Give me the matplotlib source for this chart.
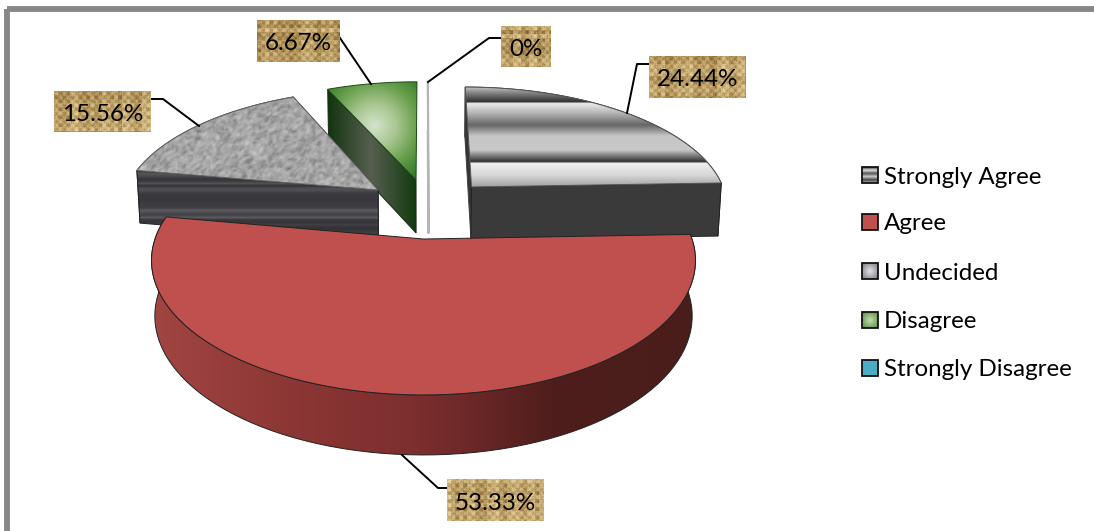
import numpy as np
import matplotlib
matplotlib.use('Agg')
import matplotlib.pyplot as plt
from matplotlib.patches import Polygon, Rectangle

categories = ['Strongly Agree', 'Agree', 'Undecided', 'Disagree', 'Strongly Disagree']
values = [24.44, 53.33, 15.56, 6.67, 0]
label_text = ['24.44%', '53.33%', '15.56%', '6.67%', '0%']

# slice explosion in disc units
offset_u = [0.191, 0.0, -0.18, -0.03, 0.02]
offset_v = [0.424, 0.0, 0.398, 0.485, 0.485]

# label boxes (x0,y0,x1,y1) and leader lines
label_box = [(649, 56, 746, 98), (447, 479, 544, 521), (54, 91, 151, 132),
             (257, 20, 340, 62), (501, 26, 551, 67)]
leaders = [[(649, 64), (637, 64), (627, 113)],
           [(447, 488), (438, 488), (402, 455)],
           [(151, 99), (163, 99), (199, 126)],
           [(340, 38), (371, 84)],
           [(501, 38), (489, 38), (428, 82)]]
legend_y = [175, 222, 271, 320, 368]

# pie projection
cx, cy = 423.5, 239.0
R, Ry = 268.5, 131.0
k, m = 0.16, 0.012
D = 55.0

rng = np.random.default_rng(7)
plt.rcParams['font.family'] = ['Lato', 'DejaVu Sans']

fig = plt.figure(figsize=(10.94, 5.31), dpi=100)
ax = fig.add_axes([0, 0, 1, 1])
ax.axis('off')
zo = [2]


def nz():
    zo[0] += 1
    return zo[0]


def proj(u, v, z=0.0):
    w0 = 1 + k * v
    w = w0 + m * z
    y = cy - Ry * v / w0 + D * z / np.sqrt(w0)
    return cx + R * u / w, y


def hexrgb(c):
    return np.array(matplotlib.colors.to_rgb(c))


def ramp(t, stops):
    pos = [s[0] for s in stops]
    cols = np.array([hexrgb(s[1]) for s in stops])
    return np.stack([np.interp(t, pos, cols[:, i]) for i in range(3)], axis=-1)


def fill_img(xy, img, box, interp='bilinear', edge='#222222', lw=0.7):
    x0, y0, x1, y1 = box
    z = nz()
    im = ax.imshow(img, extent=(x0, x1, y1, y0), aspect='auto', zorder=z, interpolation=interp)
    im.set_clip_path(Polygon(xy, closed=True, transform=ax.transData))
    if edge:
        ax.add_patch(Polygon(xy, closed=True, fill=False, ec=edge, lw=lw, zorder=z))


def flat(xy, col, edge='#222222', lw=0.7):
    ax.add_patch(Polygon(xy, closed=True, fc=col, ec=edge, lw=lw, zorder=nz()))


def bbox(xy):
    xy = np.asarray(xy)
    return xy[:, 0].min(), xy[:, 1].min(), xy[:, 0].max(), xy[:, 1].max()


def wedge_pts(a0, a1, du, dv, z=0.0, n=80):
    th = np.radians(np.linspace(a0, a1, n))
    x, y = proj(du + np.sin(th), dv + np.cos(th), z)
    return np.column_stack([x, y])


def rim(a0, a1, du, dv):
    return np.vstack([wedge_pts(a0, a1, du, dv), wedge_pts(a0, a1, du, dv, 1.0)[::-1]])


def cut(a, du, dv):
    tip = wedge_pts(a, a, du, dv, n=1)[0]
    tip2 = wedge_pts(a, a, du, dv, 1.0, n=1)[0]
    return np.array([tip, proj(du, dv), proj(du, dv, 1.0), tip2])


def top(a0, a1, du, dv):
    return np.vstack([[proj(du, dv)], wedge_pts(a0, a1, du, dv)])


def h_img(stops, x0, x1):
    t = np.linspace(x0, x1, 300)
    return ramp(t, stops)[None, :, :]


def v_img(stops, y0, y1):
    t = np.linspace(y0, y1, 400)
    return ramp(t, stops)[:, None, :]


def radial_img(box, c, stops):
    x0, y0, x1, y1 = box
    xx, yy = np.meshgrid(np.linspace(x0, x1, 160), np.linspace(y0, y1, 160))
    d = np.hypot(xx - c[0], yy - c[1])
    return ramp(d, stops)


def burlap(w, h):
    rows = rng.uniform(-0.5, 0.5, h // 4 + 2)
    cols = rng.uniform(-0.5, 0.5, w // 4 + 2)
    yy, xx = np.mgrid[0:h, 0:w]
    weave = np.sin(2 * np.pi * xx / 8.0) * np.sin(2 * np.pi * yy / 8.0)
    v = 0.52 + 0.16 * weave + 0.25 * rows[yy // 4] + 0.25 * cols[xx // 4] + rng.normal(0, 0.05, (h, w))
    return ramp(np.clip(v, 0, 1), [(0, '#6a4f26'), (0.35, '#a5854c'), (0.6, '#c8ad74'), (1, '#f2e3b4')])


angles = np.cumsum([0] + values) / sum(values) * 360.0
a0s, a1s = angles[:-1], angles[1:]

# blue slice has no width, only a thin line is left
line = cut(a0s[4], offset_u[4], offset_v[4])
ax.plot(line[:, 0], line[:, 1], color='#b4b4b4', lw=1.6, zorder=nz())

# green slice
du, dv = offset_u[3], offset_v[3]
side = cut(a0s[3], du, dv)
bx = bbox(side)
fill_img(side, h_img([(327, '#12330f'), (370, '#565f50'), (416, '#123a0e')], bx[0], bx[2]), bx, edge='#1a2a16')
pts = top(a0s[3], a1s[3], du, dv)
bx = bbox(pts)
fill_img(pts, radial_img(bx, (374, 126), [(0, '#d4e4cc'), (22, '#a8c690'), (42, '#6aa04e'), (72, '#1f6c1a')]), bx,
         edge='#1a4a14')

# gray slice
du, dv = offset_u[2], offset_v[2]
stripe = ramp(rng.uniform(0, 1, 30), [(0, '#343438'), (0.6, '#3f3f43'), (1, '#5c5c60')])[:, None, :]
pts = cut(a1s[2], du, dv)
flat(pts, '#3c3c40')
pts = rim(a0s[2], a1s[2], du, dv)
flat(pts, '#3c3c40')
pts = cut(a0s[2], du, dv)
fill_img(pts, stripe, bbox(pts))
pts = top(a0s[2], a1s[2], du, dv)
bx = bbox(pts)
noise = rng.normal(0, 1, (50, 125))
noise = (noise + np.roll(noise, 1, 1) + np.roll(noise, 1, 0)) / 1.7
fill_img(pts, ramp(0.5 + 0.13 * noise, [(0, '#6e6e6e'), (0.5, '#a6a6a6'), (1, '#d0d0d0')]), bx, edge='#666666')

# dark striped slice
du, dv = offset_u[0], offset_v[0]
flat(rim(a0s[0], a1s[0], du, dv), '#383838')
flat(cut(a0s[0], du, dv), '#333333', edge='#444444')
flat(cut(a1s[0], du, dv), '#3a3a3a')
pts = top(a0s[0], a1s[0], du, dv)
bx = bbox(pts)
fill_img(pts, v_img([(87, '#c4c4c4'), (92, '#8c8c8c'), (102, '#2e2e2e'), (103, '#ececec'), (112, '#bbbbbb'),
                     (125, '#666666'), (136, '#c6c6c6'), (150, '#c8c8c8'), (162, '#2c2c2c'), (163, '#f0f0f0'),
                     (175, '#d8d8d8'), (187, '#a0a0a0')], bx[1], bx[3]), bx, edge='#555555')

# red slice sits in front of the others
du, dv = offset_u[1], offset_v[1]
pts = rim(a0s[1], a1s[1], du, dv)
bx = bbox(pts)
fill_img(pts, h_img([(151, '#a24543'), (300, '#8a3634'), (420, '#7c2e2e'), (560, '#4d1d1b'), (696, '#4a1e1c')],
                    bx[0], bx[2]), bx)
flat(top(a0s[1], a1s[1], du, dv), '#C0504D')

# leader lines and burlap labels
for i, txt in enumerate(label_text):
    xs, ys = zip(*leaders[i])
    ax.plot(xs, ys, color='black', lw=1.4, zorder=50)
    x0, y0, x1, y1 = label_box[i]
    ax.imshow(burlap(x1 - x0, y1 - y0), extent=(x0, x1, y1, y0), aspect='auto', zorder=51, interpolation='bilinear')
    ax.text((x0 + x1) / 2, (y0 + y1) / 2 + 3, txt, ha='center', va='center', fontsize=17.4, color='black', zorder=52)

# legend
sw = [v_img([(0, '#333333'), (0.2, '#dddddd'), (0.4, '#555555'), (0.6, '#cccccc'), (0.8, '#444444'), (1, '#bbbbbb')], 0, 1),
      None,
      radial_img((0, 0, 1, 1), (0.5, 0.5), [(0, '#e4e4e8'), (0.7, '#77777c')]),
      radial_img((0, 0, 1, 1), (0.5, 0.5), [(0, '#c8dcb0'), (0.7, '#4f8a3a')]),
      None]
sw_col = [None, '#C0504D', None, None, '#4BACC6']
for i, name in enumerate(categories):
    y = legend_y[i]
    z = 60
    if sw[i] is not None:
        ax.imshow(sw[i], extent=(862, 878, y + 8, y - 8), aspect='auto', zorder=z)
    else:
        ax.add_patch(Rectangle((862, y - 8), 16, 16, fc=sw_col[i], zorder=z))
    ax.add_patch(Rectangle((862, y - 8), 16, 16, fill=False, ec='#111111', lw=1.3, zorder=z + 1))
    ax.text(884, y + 2, name, ha='left', va='center', fontsize=17.4, color='black', zorder=z)

# outer frame runs off the page
ax.add_patch(Rectangle((7, 8.5), 1200, 800, fill=False, ec='#868686', lw=4.2, zorder=1))

ax.set_xlim(0, 1094)
ax.set_ylim(531, 0)
fig.savefig('out.png', dpi=100)
